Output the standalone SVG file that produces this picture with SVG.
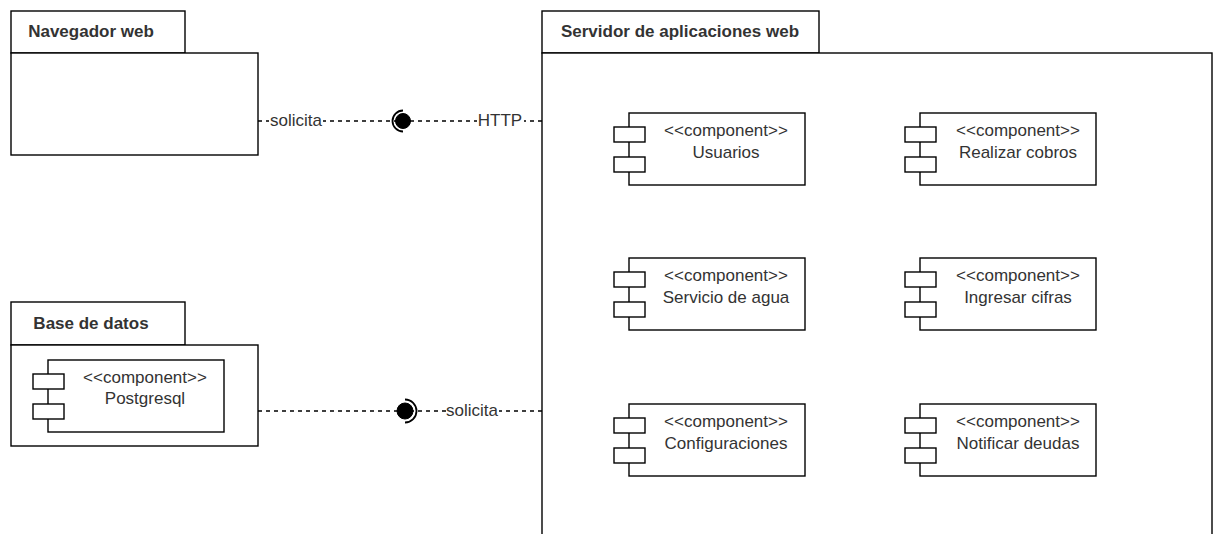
<svg xmlns="http://www.w3.org/2000/svg" width="1214" height="534" viewBox="0 0 1214 534">
  <style>
    .box { fill: #ffffff; stroke: #000000; stroke-width: 1.4; }
    .title { font-family: "Liberation Sans", Arial, sans-serif; font-size: 17px; font-weight: bold; fill: #333333; }
    .txt { font-family: "Liberation Sans", Arial, sans-serif; font-size: 17px; fill: #333333; text-anchor: middle; }
    .dash { fill: none; stroke: #000000; stroke-width: 1.4; stroke-dasharray: 4 4; }
    .lblbg { fill: #ffffff; }
    .ball { fill: #000000; stroke: #000000; stroke-width: 1; }
    .socket { fill: none; stroke: #000000; stroke-width: 1.8; }
  </style>
  <defs>
    <!-- UML component: body plus the two small port rectangles, origin at body top-left -->
    <g id="component">
      <rect class="box" x="0" y="0" width="176" height="72"/>
      <rect class="box" x="-15" y="14" width="31" height="15"/>
      <rect class="box" x="-15" y="44" width="31" height="15"/>
    </g>
  </defs>
  <rect x="0" y="0" width="1214" height="534" fill="#ffffff"/>

  <!-- Package: Navegador web -->
  <g id="navegador">
    <rect class="box" x="11" y="11" width="174" height="42"/>
    <rect class="box" x="11" y="53" width="247" height="102"/>
    <text class="title" x="91" y="37" text-anchor="middle">Navegador web</text>
  </g>

  <!-- Package: Base de datos -->
  <g id="base-datos">
    <rect class="box" x="11" y="302" width="174" height="43"/>
    <rect class="box" x="11" y="345" width="247" height="101"/>
    <text class="title" x="91" y="329" text-anchor="middle">Base de datos</text>
  </g>
  <g id="postgresql">
    <use href="#component" x="48" y="360"/>
    <text class="txt" x="145" y="383">&lt;&lt;component&gt;&gt;</text>
    <text class="txt" x="145" y="404">Postgresql</text>
  </g>

  <!-- Package: Servidor de aplicaciones web -->
  <g id="servidor">
    <rect class="box" x="542" y="11" width="277" height="42"/>
    <rect class="box" x="542" y="53" width="670" height="500"/>
    <text class="title" x="680" y="37" text-anchor="middle">Servidor de aplicaciones web</text>
  </g>

  <g id="usuarios">
    <use href="#component" x="629" y="113"/>
    <text class="txt" x="726" y="136">&lt;&lt;component&gt;&gt;</text>
    <text class="txt" x="726" y="158">Usuarios</text>
  </g>
  <g id="realizar-cobros">
    <use href="#component" x="920" y="113"/>
    <text class="txt" x="1018" y="136">&lt;&lt;component&gt;&gt;</text>
    <text class="txt" x="1018" y="158">Realizar cobros</text>
  </g>
  <g id="servicio-agua">
    <use href="#component" x="629" y="258"/>
    <text class="txt" x="726" y="281">&lt;&lt;component&gt;&gt;</text>
    <text class="txt" x="726" y="303">Servicio de agua</text>
  </g>
  <g id="ingresar-cifras">
    <use href="#component" x="920" y="258"/>
    <text class="txt" x="1018" y="281">&lt;&lt;component&gt;&gt;</text>
    <text class="txt" x="1018" y="303">Ingresar cifras</text>
  </g>
  <g id="configuraciones">
    <use href="#component" x="629" y="404"/>
    <text class="txt" x="726" y="427">&lt;&lt;component&gt;&gt;</text>
    <text class="txt" x="726" y="449">Configuraciones</text>
  </g>
  <g id="notificar-deudas">
    <use href="#component" x="920" y="404"/>
    <text class="txt" x="1018" y="427">&lt;&lt;component&gt;&gt;</text>
    <text class="txt" x="1018" y="449">Notificar deudas</text>
  </g>

  <!-- Connectors with ball-and-socket interfaces -->
  <g id="connectors">
    <!-- browser -> server over HTTP -->
    <line class="dash" x1="258" y1="121" x2="542" y2="121"/>
    <rect class="lblbg" x="269" y="110" width="54" height="20"/>
    <text class="txt" x="296" y="126">solicita</text>
    <rect class="lblbg" x="477" y="110" width="47" height="20"/>
    <text class="txt" x="500" y="126">HTTP</text>
    <path class="socket" d="M403 110.5 A10.5 10.5 0 0 0 403 131.5"/>
    <circle class="ball" cx="403" cy="121" r="7.5"/>

    <!-- server -> database -->
    <line class="dash" x1="258" y1="411" x2="542" y2="411"/>
    <rect class="lblbg" x="446" y="400" width="53" height="20"/>
    <text class="txt" x="472" y="416">solicita</text>
    <path class="socket" d="M405 399.5 A11.5 11.5 0 0 1 405 422.5"/>
    <circle class="ball" cx="405" cy="411" r="8"/>
  </g>
</svg>
